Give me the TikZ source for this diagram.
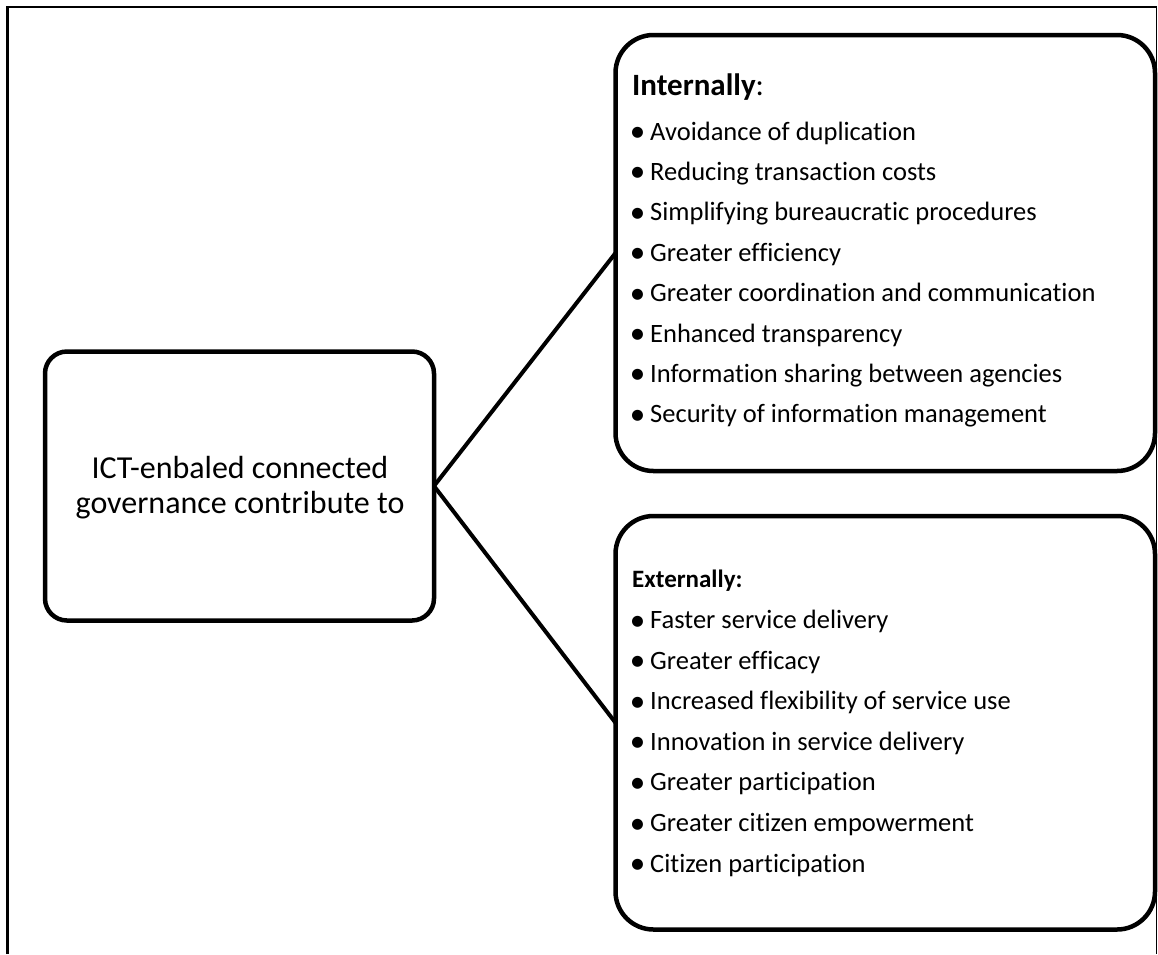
\documentclass[tikz,border=0pt]{standalone}
\usepackage{fontspec}
\setmainfont{Carlito}[Ligatures={NoCommon}]
\begin{document}
\begin{tikzpicture}[x=1pt,y=-1pt,
  box/.style={draw, line width=4.5pt, rectangle, inner sep=0pt, outer sep=0pt},
  link/.style={line width=4pt},
  itemtext/.style={anchor=base west, inner sep=0pt, font=\fontsize{26.5}{30}\selectfont},
  bulletdot/.style={anchor=base, inner sep=0pt, font=\fontsize{31}{34}\selectfont},
  centertext/.style={anchor=base, inner sep=0pt, font=\fontsize{32}{36}\selectfont}]
\useasboundingbox (0,0) rectangle (1158,954);
% outer frame
\draw[line width=2.6pt] (7.5,954) -- (7.5,7) -- (1156.5,7);
\draw[line width=1.2pt] (1156.5,7) -- (1156.5,954);
% boxes
\node[box, rounded corners=22pt, minimum width=389pt, minimum height=269pt] (ict) at (239.5,486) {};
\node[box, rounded corners=38pt, minimum width=539.5pt, minimum height=436pt] (internal) at (885.25,253) {};
\node[box, rounded corners=38pt, minimum width=539.5pt, minimum height=413.5pt] (external) at (885.25,722.75) {};
% connectors
\draw[link] (ict.east) -- (internal.west);
\draw[link] (ict.east) -- (external.west);
% centre text
\node[centertext] (ictA) at (240,478) {ICT-enbaled connected};
\node[centertext] (ictB) at (240,513) {governance contribute to};
% internal list
\node[anchor=base west, inner sep=0pt, font=\fontsize{31}{35}\selectfont] (inthead) at (632,95) {\textbf{Internally}:};
\foreach \t [count=\i from 0] in {Avoidance of duplication, Reducing transaction costs, Simplifying bureaucratic procedures, Greater efficiency, Greater coordination and communication, Enhanced transparency, Information sharing between agencies, Security of information management} {
  \node[bulletdot] (idot\i) at (637.5,{141.5+40.4*\i}) {•};
  \node[itemtext] (itxt\i) at (650,{140+40.4*\i}) {\t};
}
% external list
\node[anchor=base west, inner sep=0pt, font=\fontsize{25}{29}\selectfont] (exthead) at (632,587) {\textbf{Externally:}};
\foreach \t [count=\i from 0] in {Faster service delivery, Greater efficacy, Increased flexibility of service use, Innovation in service delivery, Greater participation, Greater citizen empowerment, Citizen participation} {
  \node[bulletdot] (edot\i) at (637.5,{630+40.6*\i}) {•};
  \node[itemtext] (etxt\i) at (650,{628.5+40.6*\i}) {\t};
}
\end{tikzpicture}
\end{document}
